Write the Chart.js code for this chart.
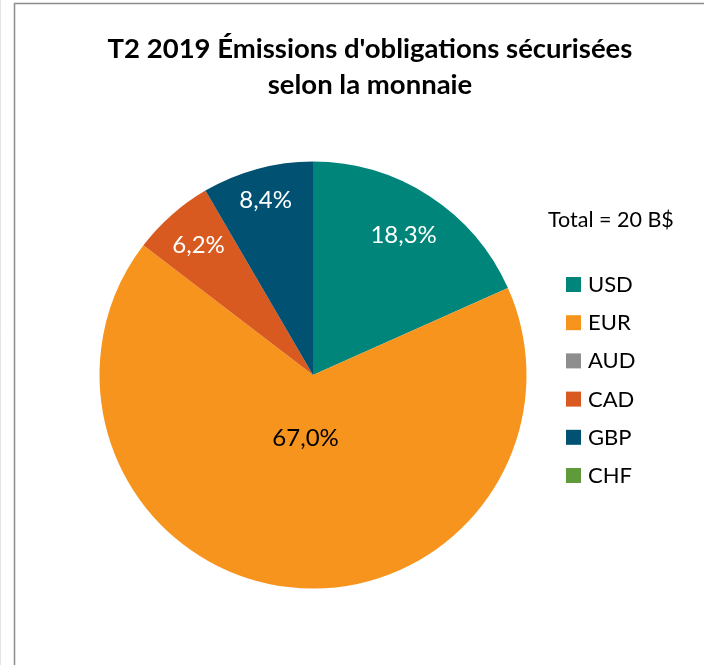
<!DOCTYPE html>
<html lang="fr">
<head>
    <meta charset="UTF-8">
    <title>T2 2019 Émissions d'obligations sécurisées selon la monnaie</title>
    <script src="https://cdn.jsdelivr.net/npm/chart.js@4.4.1/dist/chart.umd.min.js"></script>
    <style>
        body { margin: 0; background: #fff; }
        canvas { display: block; }
    </style>
</head>
<body>
    <canvas id="pieChart" width="704" height="665"></canvas>
    <script>
        // data
        var currencies = ['USD', 'EUR', 'AUD', 'CAD', 'GBP', 'CHF'];
        var shares = [18.3, 67.0, 0, 6.2, 8.4, 0];
        var sliceColors = ['#00857a', '#f7941e', '#8e8e8e', '#d95a20', '#005172', '#5f9b3a'];
        var titleLines = ["T2 2019 Émissions d'obligations sécurisées", 'selon la monnaie'];
        var totalText = 'Total = 20 B$';

        // label placement (fraction of radius) and label colours
        var labelDist = [0.78, 0.30, 0.5, 0.81, 0.85, 0.5];
        var labelColors = ['#fff', '#000', '#fff', '#fff', '#fff', '#fff'];
        var FONT = 'Lato, "Open Sans", sans-serif';

        var framePlugin = {
            id: 'frame',
            beforeDraw: function(chart) {
                var ctx = chart.ctx;
                ctx.save();
                ctx.fillStyle = '#fff';
                ctx.fillRect(0, 0, chart.width, chart.height);
                ctx.strokeStyle = '#8c8c8c';
                ctx.lineWidth = 1.5;
                ctx.beginPath();
                ctx.moveTo(14.5, chart.height);
                ctx.lineTo(14.5, 3.5);
                ctx.lineTo(chart.width, 3.5);
                ctx.stroke();
                ctx.strokeStyle = '#e4e4e4';
                ctx.lineWidth = 1;
                ctx.beginPath();
                ctx.moveTo(0.5, 0);
                ctx.lineTo(0.5, chart.height);
                ctx.stroke();
                ctx.restore();
            }
        };

        var labelsPlugin = {
            id: 'sliceLabels',
            afterDatasetsDraw: function(chart) {
                var ctx = chart.ctx;
                var meta = chart.getDatasetMeta(0);
                ctx.save();
                ctx.font = '24px ' + FONT;
                ctx.textAlign = 'center';
                ctx.textBaseline = 'middle';
                meta.data.forEach(function(arc, i) {
                    var v = shares[i];
                    if (!v) return;
                    var mid = (arc.startAngle + arc.endAngle) / 2;
                    var r = arc.outerRadius * labelDist[i];
                    ctx.fillStyle = labelColors[i];
                    ctx.fillText(v.toFixed(1).replace('.', ',') + '%',
                        arc.x + Math.cos(mid) * r, arc.y + Math.sin(mid) * r);
                });

                // title
                ctx.fillStyle = '#000';
                ctx.font = 'bold 27.5px ' + FONT;
                ctx.textBaseline = 'alphabetic';
                ctx.fillText(titleLines[0], 370, 58);
                ctx.fillText(titleLines[1], 370, 94);

                // total note
                ctx.font = '21.5px ' + FONT;
                ctx.textAlign = 'left';
                ctx.textBaseline = 'middle';
                ctx.fillText(totalText, 548, 220);

                // legend
                ctx.font = '22px ' + FONT;
                currencies.forEach(function(c, i) {
                    var y = 284 + i * 38.2;
                    ctx.fillStyle = sliceColors[i];
                    ctx.fillRect(566, y - 7, 15, 15);
                    ctx.fillStyle = '#000';
                    ctx.fillText(c, 588, y + 1);
                });
                ctx.restore();
            }
        };

        var chart = new Chart(document.getElementById('pieChart').getContext('2d'), {
            type: 'pie',
            data: {
                labels: currencies,
                datasets: [{
                    data: shares,
                    backgroundColor: sliceColors,
                    borderWidth: 0
                }]
            },
            options: {
                responsive: false,
                devicePixelRatio: 1,
                animation: false,
                layout: { padding: { left: 99.5, right: 177.5, top: 161.5, bottom: 76.5 } },
                plugins: {
                    legend: { display: false },
                    title: { display: false },
                    tooltip: { enabled: false }
                }
            },
            plugins: [framePlugin, labelsPlugin]
        });
    </script>
</body>
</html>
